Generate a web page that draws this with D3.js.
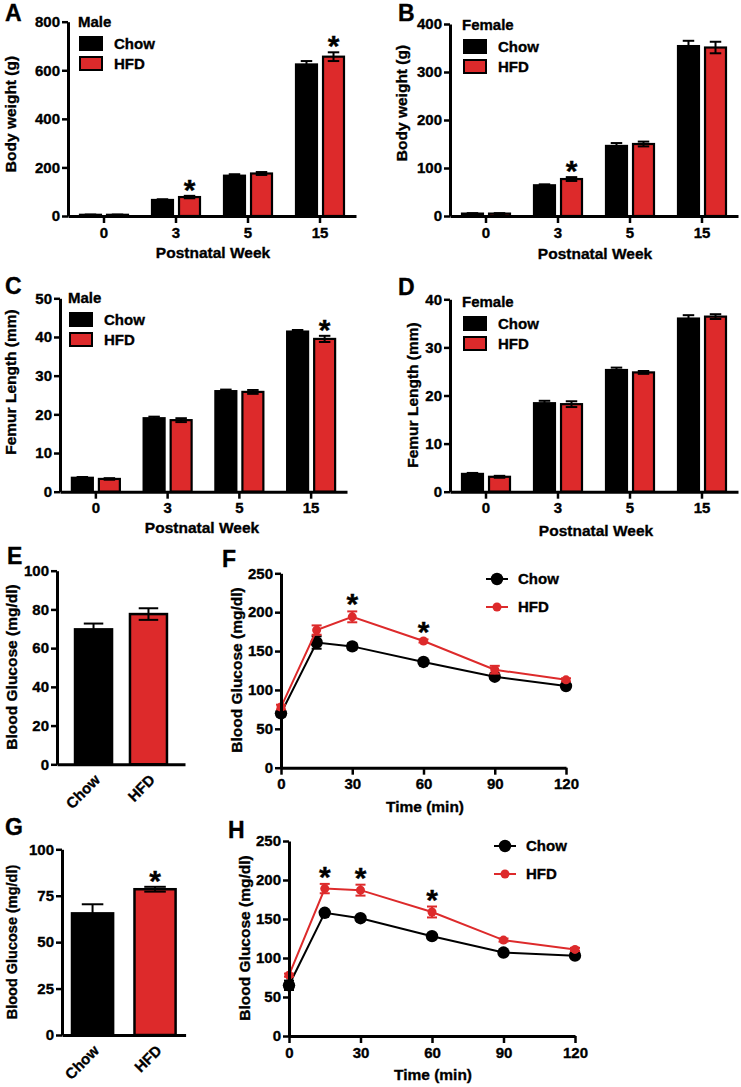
<!DOCTYPE html>
<html><head><meta charset="utf-8">
<script src="https://cdn.jsdelivr.net/npm/d3@7"></script>
<style>
body{margin:0;background:#fff;}
svg{display:block;font-family:"Liberation Sans",Arial,Helvetica,sans-serif;font-weight:bold;}
svg text{stroke:#000;stroke-width:0.35px;}
</style></head><body>
<svg id="fig" width="741" height="1087"></svg>
<script>
// ---------------- DATA ----------------
const weeks = ["0", "3", "5", "15"];
const groups = ["Chow", "HFD"];

// A: Male body weight (g)
const maleBWChow = [5, 66, 166, 624];
const maleBWChowErr = [1, 3, 6, 14];
const maleBWHFD = [5, 78, 175, 656];
const maleBWHFDErr = [1, 5, 6, 18];
const maleBWSig = [false, true, false, true];
const maleBWTicks = [0, 200, 400, 600, 800];

// B: Female body weight (g)
const femBWChow = [5, 64, 146, 354];
const femBWChowErr = [1, 2, 6, 11];
const femBWHFD = [5, 77, 150, 351];
const femBWHFDErr = [1, 4, 5, 12];
const femBWSig = [false, true, false, false];
const femBWTicks = [0, 100, 200, 300, 400];

// C: Male femur length (mm)
const maleFLChow = [3.6, 19.0, 26.0, 41.4];
const maleFLChowErr = [0.2, 0.4, 0.4, 0.4];
const maleFLHFD = [3.3, 18.5, 25.8, 39.5];
const maleFLHFDErr = [0.2, 0.5, 0.5, 0.8];
const maleFLSig = [false, false, false, true];
const maleFLTicks = [0, 10, 20, 30, 40, 50];

// D: Female femur length (mm)
const femFLChow = [3.7, 18.4, 25.3, 36.0];
const femFLChowErr = [0.2, 0.5, 0.5, 0.7];
const femFLHFD = [3.1, 18.2, 24.8, 36.4];
const femFLHFDErr = [0.2, 0.6, 0.3, 0.5];
const femFLSig = [false, false, false, false];
const femFLTicks = [0, 10, 20, 30, 40];

// E: fasting blood glucose (mg/dl)
const eVals = [69.7, 77.6];
const eErr = [3, 3];
const eSig = [false, false];
const eTicks = [0, 20, 40, 60, 80, 100];

// F: glucose tolerance (mg/dl)
const times = [0, 15, 30, 60, 90, 120];
const timeTicks = [0, 30, 60, 90, 120];
const gttTicks = [0, 50, 100, 150, 200, 250];
const fChow = [70, 161, 156, 136, 117, 105];
const fChowErr = [4, 8, 4, 2, 3, 2];
const fHFD = [78, 177, 194, 163, 126, 113];
const fHFDErr = [3, 6, 7, 2, 5, 2];
const fSig = [false, false, true, true, false, false];

// G: fasting blood glucose (mg/dl)
const gVals = [65.5, 78.5];
const gErr = [4.9, 1.3];
const gSig = [false, true];
const gTicks = [0, 25, 50, 75, 100];

// H: glucose tolerance (mg/dl)
const hChow = [65, 158, 151, 128, 107, 103];
const hChowErr = [6, 2, 2, 2, 2, 2];
const hHFD = [78, 189, 187, 159, 123, 111];
const hHFDErr = [2, 6, 7, 7, 2, 2];
const hSig = [false, true, true, true, false, false];

// ---------------- STYLE ----------------
const RED = "#dd2a2b";
const BLACK = "#000";
const FS = 15;
const TFS = 15.5;
const colorOf = {Chow: BLACK, HFD: RED};
const svg = d3.select("#fig");

function styleAxis(g, fs) {
  g.attr("font-size", null).attr("font-family", null);
  g.select(".domain").attr("stroke-width", 3).attr("stroke", BLACK);
  g.selectAll(".tick line").attr("stroke-width", 2.5).attr("stroke", BLACK);
  g.selectAll(".tick text").attr("font-size", fs || FS).attr("font-weight", "bold").attr("fill", BLACK);
}

function panelLetter(t, x, y) {
  svg.append("text").attr("x", x).attr("y", y).attr("font-size", 23).text(t);
}
function yTitle(t, x, y, fs) {
  svg.append("text").attr("transform", `translate(${x},${y}) rotate(-90)`)
    .attr("text-anchor", "middle").attr("font-size", fs || TFS).text(t);
}
function xTitle(t, x, y) {
  svg.append("text").attr("x", x).attr("y", y).attr("text-anchor", "middle").attr("font-size", TFS).text(t);
}
function star(x, yTop) {
  svg.append("text").attr("x", x).attr("y", yTop + 16).attr("text-anchor", "middle")
    .attr("font-size", 30).text("*");
}
function errBar(g, x, y1, y2, half, color) {
  g.append("line").attr("x1", x).attr("x2", x).attr("y1", y1).attr("y2", y2)
    .attr("stroke", color).attr("stroke-width", 2);
  [y1, y2].forEach(yy => g.append("line").attr("x1", x - half).attr("x2", x + half)
    .attr("y1", yy).attr("y2", yy).attr("stroke", color).attr("stroke-width", 2));
}

// grouped bar chart
function groupedBars(c) {
  const x0 = d3.scaleBand().domain(weeks).range([c.left, c.right]);
  const x1 = d3.scaleBand().domain(groups).range([-25, 25]).paddingInner(0.15);
  const y = d3.scaleLinear().domain([0, d3.max(c.ticks)]).range([c.bottom, c.top]);
  const g = svg.append("g");
  const vals = [c.chow, c.hfd], errs = [c.chowErr, c.hfdErr];
  const rows = [];
  weeks.forEach((w, i) => groups.forEach((grp, j) => rows.push({
    w, grp, v: vals[j][i], e: errs[j][i], sig: j === 1 && c.sig[i],
    cx: x0(w) + x0.bandwidth() / 2 + x1(grp) + x1.bandwidth() / 2
  })));
  g.selectAll("rect.bar").data(rows).join("rect").attr("class", "bar")
    .attr("x", d => d.cx - x1.bandwidth() / 2 + 1).attr("width", x1.bandwidth() - 2)
    .attr("y", d => y(d.v)).attr("height", d => y(0) - y(d.v))
    .attr("fill", d => colorOf[d.grp]).attr("stroke", BLACK).attr("stroke-width", 2.2);
  rows.forEach(d => errBar(g, d.cx, y(d.v + d.e), y(d.v - d.e), x1.bandwidth() / 4, BLACK));
  rows.filter(d => d.sig).forEach(d => star(d.cx, y(d.v + d.e) - 12));
  const ax = svg.append("g").attr("transform", `translate(0,${c.bottom})`)
    .call(d3.axisBottom(x0).tickSize(7).tickSizeOuter(0).tickPadding(4));
  styleAxis(ax);
  const ay = svg.append("g").attr("transform", `translate(${c.left},0)`)
    .call(d3.axisLeft(y).tickValues(c.ticks).tickSize(6).tickSizeOuter(0).tickPadding(2));
  styleAxis(ay);
  // legend
  const L = c.leg;
  svg.append("text").attr("x", L.x - 2).attr("y", L.y).attr("font-size", FS).text(c.sex);
  groups.forEach((grp, j) => {
    const yy = L.y + 10 + j * 20;
    svg.append("rect").attr("x", L.x).attr("y", yy).attr("width", 22).attr("height", 13)
      .attr("fill", colorOf[grp]).attr("stroke", BLACK).attr("stroke-width", 2);
    svg.append("text").attr("x", L.x + 34).attr("y", yy + 12).attr("font-size", FS).text(grp);
  });
}

function singleBars(c) {
  const x = d3.scaleBand().domain(groups).range([c.left, c.right]).paddingInner(c.pi).paddingOuter(c.po);
  const y = d3.scaleLinear().domain([0, d3.max(c.ticks)]).range([c.bottom, c.top]);
  const g = svg.append("g");
  const rows = groups.map((grp, j) => ({grp, v: c.vals[j], e: c.errs[j], sig: c.sig[j], cx: x(grp) + x.bandwidth() / 2}));
  g.selectAll("rect").data(rows).join("rect")
    .attr("x", d => x(d.grp) + 1).attr("width", x.bandwidth() - 2)
    .attr("y", d => y(d.v)).attr("height", d => y(0) - y(d.v))
    .attr("fill", d => colorOf[d.grp]).attr("stroke", BLACK).attr("stroke-width", 2.5);
  rows.forEach(d => errBar(g, d.cx, y(d.v + d.e), y(d.v - d.e), x.bandwidth() / 4, BLACK));
  rows.filter(d => d.sig).forEach(d => star(d.cx, y(d.v + d.e) - 12));
  const ax = svg.append("g").attr("transform", `translate(0,${c.bottom})`)
    .call(d3.axisBottom(x).tickSize(0).tickSizeOuter(0));
  styleAxis(ax);
  ax.selectAll(".tick text").attr("text-anchor", "end").attr("y", 0).attr("dy", "0.71em")
    .attr("transform", "translate(0,9) rotate(-45)");
  const ay = svg.append("g").attr("transform", `translate(${c.left},0)`)
    .call(d3.axisLeft(y).tickValues(c.ticks).tickSize(6).tickSizeOuter(0).tickPadding(2));
  styleAxis(ay);
}

function linePanel(c) {
  const x = d3.scaleLinear().domain([0, 120]).range([c.left, c.right]);
  const y = d3.scaleLinear().domain([0, 250]).range([c.bottom, c.top]);
  const g = svg.append("g");
  const series = [
    {grp: "Chow", vals: c.chow, errs: c.chowErr, r: 6.2},
    {grp: "HFD", vals: c.hfd, errs: c.hfdErr, r: 4.5}
  ];
  const line = d3.line().x((d, i) => x(times[i])).y(d => y(d));
  series.forEach(s => {
    g.append("path").attr("d", line(s.vals)).attr("fill", "none")
      .attr("stroke", colorOf[s.grp]).attr("stroke-width", 2);
    s.vals.forEach((v, i) => errBar(g, x(times[i]), y(v + s.errs[i]), y(v - s.errs[i]), 5, colorOf[s.grp]));
    g.selectAll(null).data(s.vals).join("circle")
      .attr("cx", (d, i) => x(times[i])).attr("cy", d => y(d)).attr("r", s.r).attr("fill", colorOf[s.grp]);
  });
  c.sig.forEach((sg, i) => { if (sg) star(x(times[i]), y(c.hfd[i] + c.hfdErr[i]) - 13); });
  const ax = svg.append("g").attr("transform", `translate(0,${c.bottom})`)
    .call(d3.axisBottom(x).tickValues(timeTicks).tickSize(7).tickSizeOuter(0).tickPadding(4));
  styleAxis(ax);
  const ay = svg.append("g").attr("transform", `translate(${c.left},0)`)
    .call(d3.axisLeft(y).tickValues(gttTicks).tickSize(6).tickSizeOuter(0).tickPadding(2));
  styleAxis(ay);
  const L = c.leg;
  series.forEach((s, j) => {
    const yy = L.y + j * 28;
    svg.append("line").attr("x1", L.x).attr("x2", L.x + 22).attr("y1", yy).attr("y2", yy)
      .attr("stroke", colorOf[s.grp]).attr("stroke-width", 2);
    svg.append("circle").attr("cx", L.x + 11).attr("cy", yy).attr("r", s.r).attr("fill", colorOf[s.grp]);
    svg.append("text").attr("x", L.x + 32).attr("y", yy).attr("dy", "0.36em").attr("font-size", FS).text(s.grp);
  });
}

// ---------------- PANELS ----------------
groupedBars({chow: maleBWChow, chowErr: maleBWChowErr, hfd: maleBWHFD, hfdErr: maleBWHFDErr,
  sig: maleBWSig, ticks: maleBWTicks, left: 68, right: 356, top: 21.7, bottom: 216,
  sex: "Male", leg: {x: 80, y: 27}});
panelLetter("A", 5, 21);
yTitle("Body weight (g)", 16, 114);
xTitle("Postnatal Week", 213, 258);

groupedBars({chow: femBWChow, chowErr: femBWChowErr, hfd: femBWHFD, hfdErr: femBWHFDErr,
  sig: femBWSig, ticks: femBWTicks, left: 450, right: 738, top: 24, bottom: 216,
  sex: "Female", leg: {x: 464, y: 30}});
panelLetter("B", 398, 21);
yTitle("Body weight (g)", 407, 103);
xTitle("Postnatal Week", 595, 259);

groupedBars({chow: maleFLChow, chowErr: maleFLChowErr, hfd: maleFLHFD, hfdErr: maleFLHFDErr,
  sig: maleFLSig, ticks: maleFLTicks, left: 60, right: 347, top: 298.3, bottom: 491.7,
  sex: "Male", leg: {x: 70, y: 303}});
panelLetter("C", 5, 294);
yTitle("Femur Length (mm)", 16, 382);
xTitle("Postnatal Week", 202, 533);

groupedBars({chow: femFLChow, chowErr: femFLChowErr, hfd: femFLHFD, hfdErr: femFLHFDErr,
  sig: femFLSig, ticks: femFLTicks, left: 450, right: 738, top: 299.3, bottom: 491.7,
  sex: "Female", leg: {x: 464, y: 307}});
panelLetter("D", 398, 295);
yTitle("Femur Length (mm)", 418, 395);
xTitle("Postnatal Week", 596, 536);

singleBars({vals: eVals, errs: eErr, sig: eSig, ticks: eTicks, left: 57, right: 185,
  top: 570.7, bottom: 764.3, pi: 0.29, po: 0.31});
panelLetter("E", 7, 564);
yTitle("Blood Glucose (mg/dl)", 17, 667);

linePanel({chow: fChow, chowErr: fChowErr, hfd: fHFD, hfdErr: fHFDErr, sig: fSig,
  left: 281, right: 566, top: 573.3, bottom: 767.7, leg: {x: 486, y: 579}});
panelLetter("F", 222, 567);
yTitle("Blood Glucose (mg/dl)", 242, 670);
xTitle("Time (min)", 425, 812);

singleBars({vals: gVals, errs: gErr, sig: gSig, ticks: gTicks, left: 62, right: 185.6,
  top: 849.3, bottom: 1035, pi: 0.31, po: 0.144});
panelLetter("G", 5, 835);
yTitle("Blood Glucose (mg/dl)", 17, 942, 14.5);

linePanel({chow: hChow, chowErr: hChowErr, hfd: hHFD, hfdErr: hHFDErr, sig: hSig,
  left: 289, right: 575, top: 841, bottom: 1036, leg: {x: 494, y: 846}});
panelLetter("H", 228, 838);
yTitle("Blood Glucose (mg/dl)", 250, 938);
xTitle("Time (min)", 433, 1080);
</script>
</body></html>
